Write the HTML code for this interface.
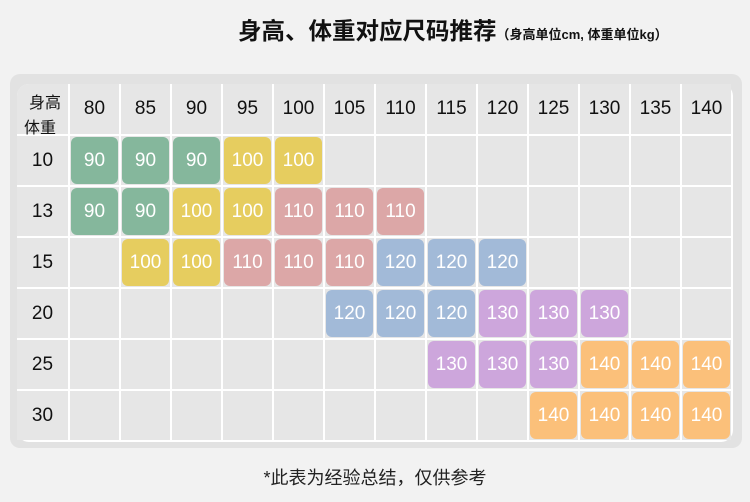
<!DOCTYPE html><html><head><meta charset="utf-8"><style>
body{margin:0;width:750px;height:502px;background:#f2f2f2;position:relative;font-family:"Liberation Sans","Noto Sans CJK SC",sans-serif;overflow:hidden}
.t{position:absolute;top:12px;left:238px;font-size:23.5px;font-weight:bold;color:#111;white-space:nowrap}
.t small{font-size:13px;font-weight:bold}
.p{position:absolute;left:10px;top:74px;width:732px;height:374px;background:#e2e2e2;border-radius:10px}
.in{position:absolute;left:17px;top:84px;width:716px;height:358px;background:#fff;border-radius:12px;overflow:hidden}
.c{position:absolute;background:#e6e6e6;display:flex;align-items:center;justify-content:center;font-size:19px;color:#111}
.b{position:absolute;border-radius:6px;display:flex;align-items:center;justify-content:center;font-size:19px;color:#fff}
.f{position:absolute;top:464px;left:0;width:750px;text-align:center;font-size:18px;color:#222}
</style></head><body>
<div class="t">身高、体重对应尺码推荐<small>（身高单位cm, 体重单位kg）</small></div>
<div class="p"></div><div class="in"></div>
<div id="g"></div>
<div class="f">*此表为经验总结，仅供参考</div>
<script>
var xs=[17,69,120,171,222,273,324,375,426,477,528,579,630,681,732];
var ys=[84,135,186,237,288,339,390,441];
var hs=[80,85,90,95,100,105,110,115,120,125,130,135,140];
var ws=[10,13,15,20,25,30];
var col={90:"#85b79c",100:"#e6cd5f",110:"#dca7a7",120:"#a2bad8",130:"#cda6dc",140:"#fbc07a"};
var d=[[90,90,90,100,100],[90,90,100,100,110,110,110],[0,100,100,110,110,110,120,120,120],[0,0,0,0,0,120,120,120,130,130,130],[0,0,0,0,0,0,0,130,130,130,140,140,140],[0,0,0,0,0,0,0,0,0,140,140,140,140]];
var h="";
for(var r=0;r<7;r++)for(var c=0;c<14;c++){
var x=xs[c]+(c?1:0),y=ys[r]+(r?1:0),w=xs[c+1]-x-1,hh=ys[r+1]-y-1;
var txt="";if(r==0&&c>0)txt=hs[c-1];if(c==0&&r>0)txt=ws[r-1];
var st="left:"+x+"px;top:"+y+"px;width:"+w+"px;height:"+hh+"px;";
if(r==0&&c==0){st+="border-top-left-radius:12px;";h+='<div class="c" style="'+st+'"><span style="position:absolute;left:12px;top:5px;font-size:16px">身高</span><span style="position:absolute;left:7px;top:30px;font-size:16px">体重</span></div>';continue;}
h+='<div class="c" style="'+st+'">'+txt+'</div>';
if(r>0&&c>0){var v=d[r-1][c-1];if(v)h+='<div class="b" style="left:'+(x+1)+'px;top:'+(y+1)+'px;width:'+(w-2)+'px;height:'+(hh-2)+'px;background:'+col[v]+'">'+v+'</div>';}
}
document.getElementById("g").innerHTML=h;
</script></body></html>
